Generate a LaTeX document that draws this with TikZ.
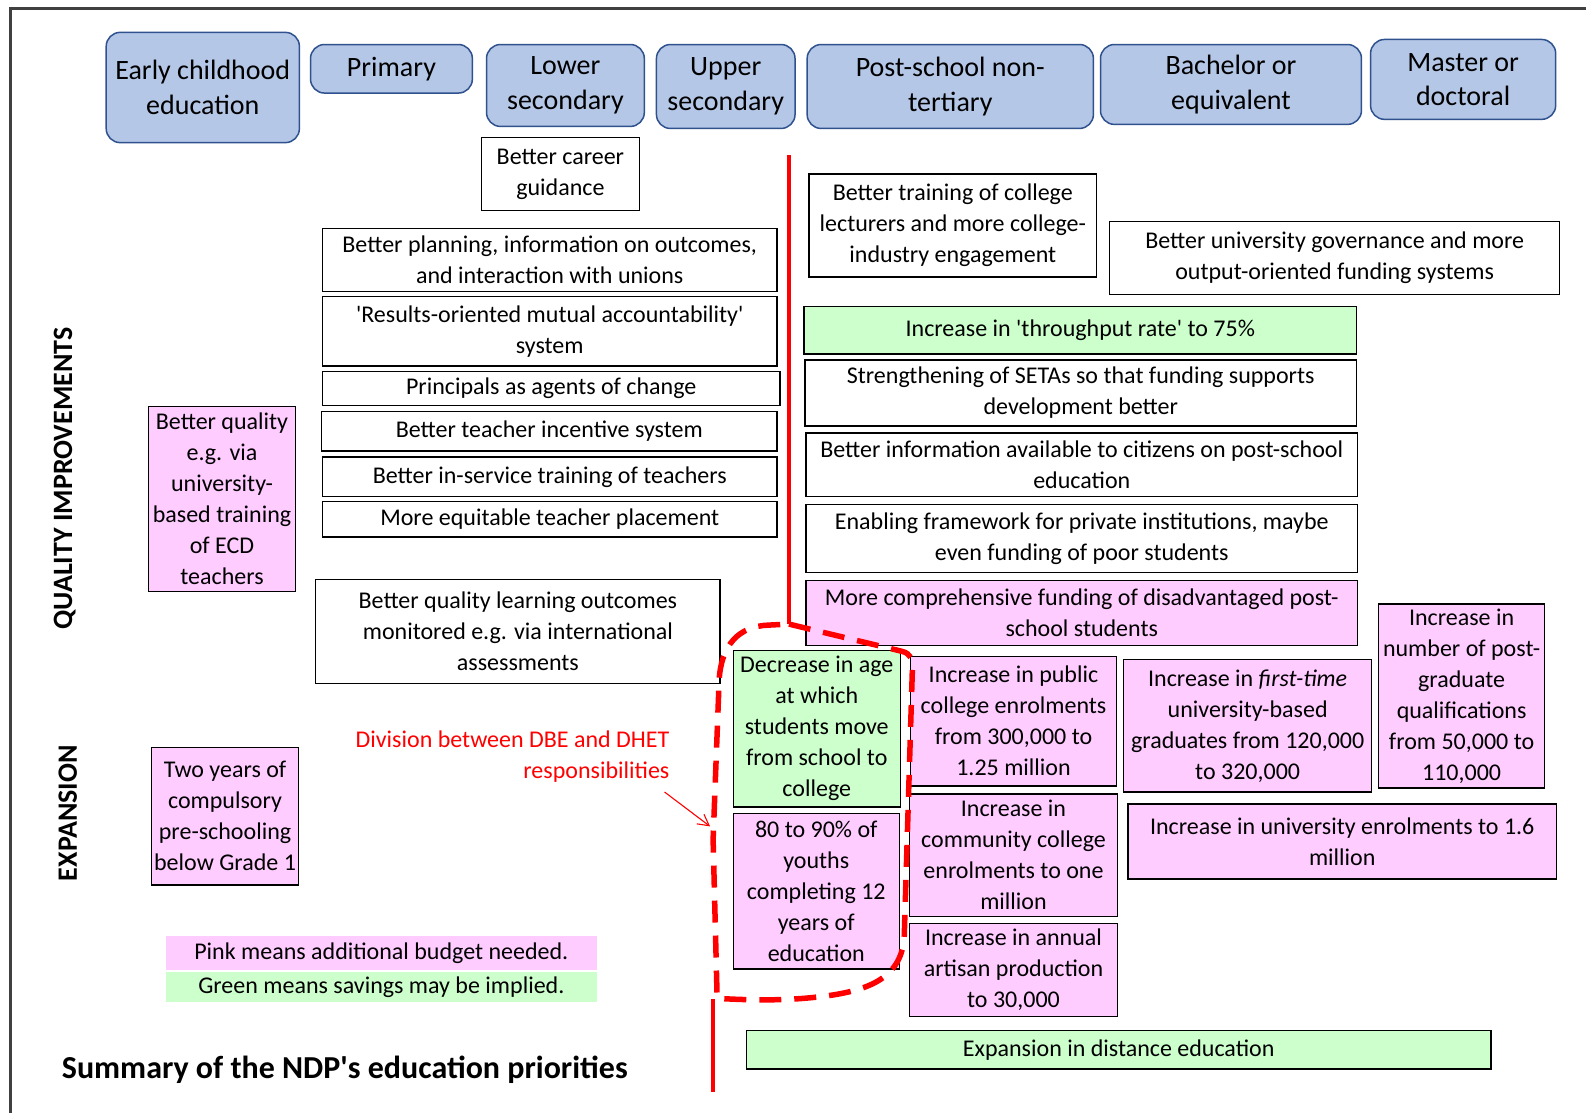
\documentclass[tikz,border=0pt]{standalone}
\usepackage{fontspec}
\setmainfont{Carlito}
\newfontfamily\calfont{Carlito}
\usetikzlibrary{arrows.meta}
\definecolor{hdrfill}{RGB}{180,199,231}
\definecolor{hdrline}{RGB}{47,82,143}
\definecolor{pinkf}{RGB}{255,204,255}
\definecolor{greenf}{RGB}{204,255,204}
\definecolor{framegray}{RGB}{64,64,64}
\newcommand\bodyfont{\calfont\fontsize{24}{31}\selectfont}
\newcommand\hdrfont{\calfont\fontsize{28}{34.5}\selectfont}
\newcommand\mybox[7]{%
  \pgfmathsetmacro\myboxw{(#5-#3)*1.0115}%
  \pgfmathsetmacro\myboxh{(#6-#4)*1.0115}%
  \node[#1, minimum width=\myboxw pt, minimum height=\myboxh pt, anchor=center] (#2) at ({(#3+#5)/2},{(#4+#6)/2}) {#7};}
\begin{document}
\begin{tikzpicture}[x=1.0115pt,y=-1.0115pt,
  hdr/.style={draw=hdrline, fill=hdrfill, line width=1.5pt, rounded corners=14pt, inner sep=0pt, align=center, font=\hdrfont},
  wbox/.style={draw=black, line width=1.4pt, inner sep=0pt, align=center, font=\bodyfont},
  pbox/.style={wbox, fill=pinkf},
  gbox/.style={wbox, fill=greenf},
  lbox/.style={inner sep=0pt, align=center, font=\bodyfont},
  sidelabel/.style={rotate=90, font=\calfont\fontsize{28}{34}\selectfont\bfseries, inner sep=0pt},
  redsolid/.style={draw=red, line width=4pt},
  reddash/.style={draw=red, line width=5.5pt, dash pattern=on 22pt off 13pt},
]
\useasboundingbox (0,0) rectangle (1568,1100);
\fill[white] (0,0) rectangle (1568,1100);
\draw[framegray, line width=3pt] (10,1100) -- (10,8) -- (1568,8);

% header row
\mybox{hdr}{h1}{105}{32}{296}{141}{Early childhood\\education}
\mybox{hdr}{h2}{307}{44}{467}{92}{Primary}
\mybox{hdr}{h3}{481}{44}{637}{125}{Lower\\secondary}
\mybox{hdr}{h4}{649}{44}{786}{127}{Upper\\secondary}
\mybox{hdr}{h5}{798}{44}{1081}{127}{Post-school non-\\tertiary}
\mybox{hdr}{h6}{1088}{44}{1346}{123}{Bachelor or\\equivalent}
\mybox{hdr}{h7}{1355}{39}{1538}{118}{Master or\\doctoral}

% side labels
\node[sidelabel] (qi) at (64,473) {QUALITY IMPROVEMENTS};
\node[sidelabel] (ex) at (67,804) {EXPANSION};

% school quality boxes
\mybox{wbox}{career}{476}{136}{632}{208}{Better career\\guidance}
\mybox{wbox}{plan}{319}{226}{768}{288}{Better planning, information on outcomes,\\and interaction with unions}
\mybox{wbox}{results}{319}{293}{768}{362}{'Results-oriented mutual accountability'\\system}
\mybox{wbox}{princ}{319}{367}{771}{401}{Principals as agents of change}
\mybox{wbox}{incent}{318}{407}{768}{446}{Better teacher incentive system}
\mybox{wbox}{inserv}{319}{452}{768}{491}{Better in-service training of teachers}
\mybox{wbox}{place}{319}{496}{768}{531}{More equitable teacher placement}
\mybox{wbox}{learn}{312}{573}{712}{676}{Better quality learning outcomes\\monitored  e.g. via international\\assessments}
\mybox{pbox}{ecdq}{147}{402}{292}{585}{Better quality\\e.g. via\\university-\\based training\\of ECD\\teachers}
\mybox{pbox}{ecde}{150}{739}{295}{875}{Two years of\\compulsory\\pre-schooling\\below Grade 1}

% post-school quality boxes
\mybox{wbox}{lect}{800}{172}{1084}{274}{Better training of college\\lecturers and more college-\\industry engagement}
\mybox{wbox}{gov}{1097}{219}{1542}{291}{Better university governance and more\\output-oriented  funding systems}
\mybox{gbox}{thru}{795}{303}{1341}{350}{Increase in 'throughput rate' to 75\%}
\mybox{wbox}{seta}{796}{356}{1341}{421}{Strengthening of SETAs so that funding supports\\development better}
\mybox{wbox}{info}{797}{428}{1342}{491}{Better information available to citizens on post-school\\education}
\mybox{wbox}{priv}{797}{499}{1342}{566}{Enabling framework for private institutions, maybe\\even funding of poor students}
\mybox{pbox}{fund}{797}{574}{1342}{638}{More comprehensive funding of disadvantaged post-\\school students}

% expansion boxes
\mybox{gbox}{age}{725}{643}{890}{798}{Decrease in age\\at which\\students move\\from school to\\college}
\mybox{pbox}{youth}{725}{804}{889}{958}{80 to 90\% of\\youths\\completing 12\\years of\\education}
\mybox{pbox}{pubcol}{900}{649}{1104}{777}{Increase in public\\college enrolments\\from 300,000 to\\1.25 million}
\mybox{pbox}{comcol}{899}{785}{1105}{906}{Increase in\\community college\\enrolments to one\\million}
\mybox{pbox}{artisan}{899}{913}{1105}{1005}{Increase in annual\\artisan production\\to 30,000}
\mybox{pbox}{firsttime}{1111}{652}{1356}{783}{Increase in \textit{first-time}\\university-based\\graduates from 120,000\\to 320,000}
\mybox{pbox}{postgrad}{1363}{597}{1527}{779}{Increase in\\number of post-\\graduate\\qualifications\\from 50,000 to\\110,000}
\mybox{pbox}{uni}{1115}{795}{1539}{869}{Increase in university enrolments to 1.6\\million}
\mybox{gbox}{distance}{738}{1019}{1474}{1057}{Expansion in distance education}

% legend
\mybox{lbox, fill=pinkf}{legp}{164}{925}{590}{959}{Pink means additional budget needed.}
\mybox{lbox, fill=greenf}{legg}{164}{961}{590}{991}{Green means savings may be implied.}

% title
\node[anchor=west, inner sep=0pt, font=\calfont\fontsize{32}{38}\selectfont\bfseries] (title) at (61,1058) {Summary of the NDP's education priorities};

% division annotation
\node[anchor=east, inner sep=0pt, align=right, text=red, font=\bodyfont] (divlab) at (662,748) {Division between DBE and DHET\\responsibilities};
\coordinate (arrS) at (657,783);
\coordinate (arrE) at (702,817);
\draw[red, line width=1.1pt, -{Straight Barb[length=11pt,width=12pt]}] (arrS) -- (arrE);

% division line
\draw[redsolid] (780,153) -- (780,617);
\draw[redsolid] (705,988) -- (705,1080);
\draw[reddash] (780,617) -- (892,644) .. controls (900,646) and (903,652) .. (902,662)
  -- (894,925) .. controls (892,965) and (862,979) .. (814,985)
  .. controls (790,988) and (760,990) .. (709,987)
  -- (705,830) -- (711,672) .. controls (713,638) and (730,619) .. (760,618) -- cycle;
\end{tikzpicture}
\end{document}
